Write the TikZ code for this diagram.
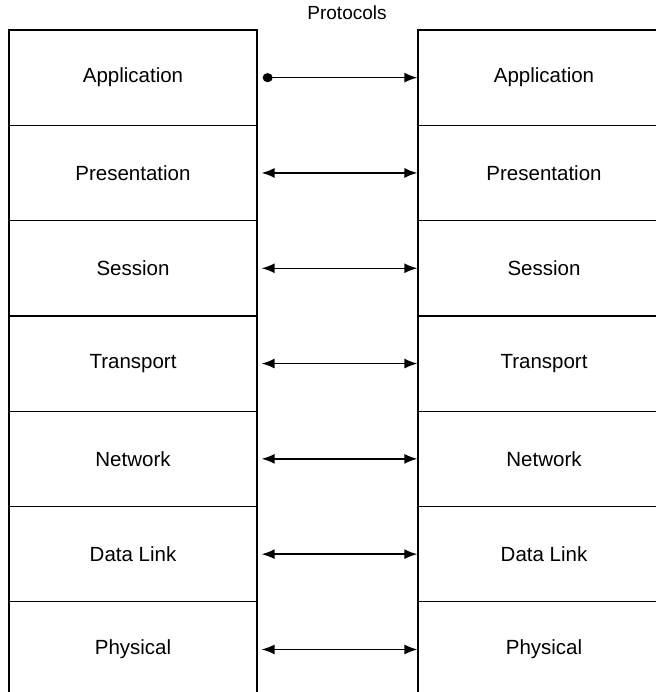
\documentclass[tikz,border=0pt]{standalone}
\usepackage{fontspec}
\setmainfont{Liberation Sans}
\usetikzlibrary{arrows.meta}
\begin{document}
\begin{tikzpicture}[x=1pt,y=-1pt,
  layer/.style={draw=black, line width=1.3pt, minimum height=95.3pt, inner sep=0pt,
    font=\fontsize{20.5}{24}\selectfont},
  lbox/.style={layer, minimum width=248pt},
  rbox/.style={layer, minimum width=252pt},
  link/.style={line width=1.4pt, {Latex[length=13pt,width=10pt]}-{Latex[length=13pt,width=10pt]}, shorten <=4pt},
  firstlink/.style={line width=1.4pt, {Circle[length=10pt,width=9pt]}-{Latex[length=13pt,width=10pt]}, shorten <=5pt}]
\useasboundingbox (0,0) rectangle (655,692);
\foreach \i/\t in {1/Application,2/Presentation,3/Session,4/Transport,5/Network,6/Data Link,7/Physical}{
  \node[lbox] (L\i) at (133, {30+95.3*(\i-0.5)}) {\t};
  \node[rbox] (R\i) at (544, {30+95.3*(\i-0.5)}) {\t};
}
\node[font=\fontsize{19}{22}\selectfont] (proto) at (347,13) {Protocols};
\draw[firstlink] (L1.east) -- (R1.west);
\foreach \i in {2,...,7}{
  \draw[link] (L\i.east) -- (R\i.west);
}
\end{tikzpicture}
\end{document}
